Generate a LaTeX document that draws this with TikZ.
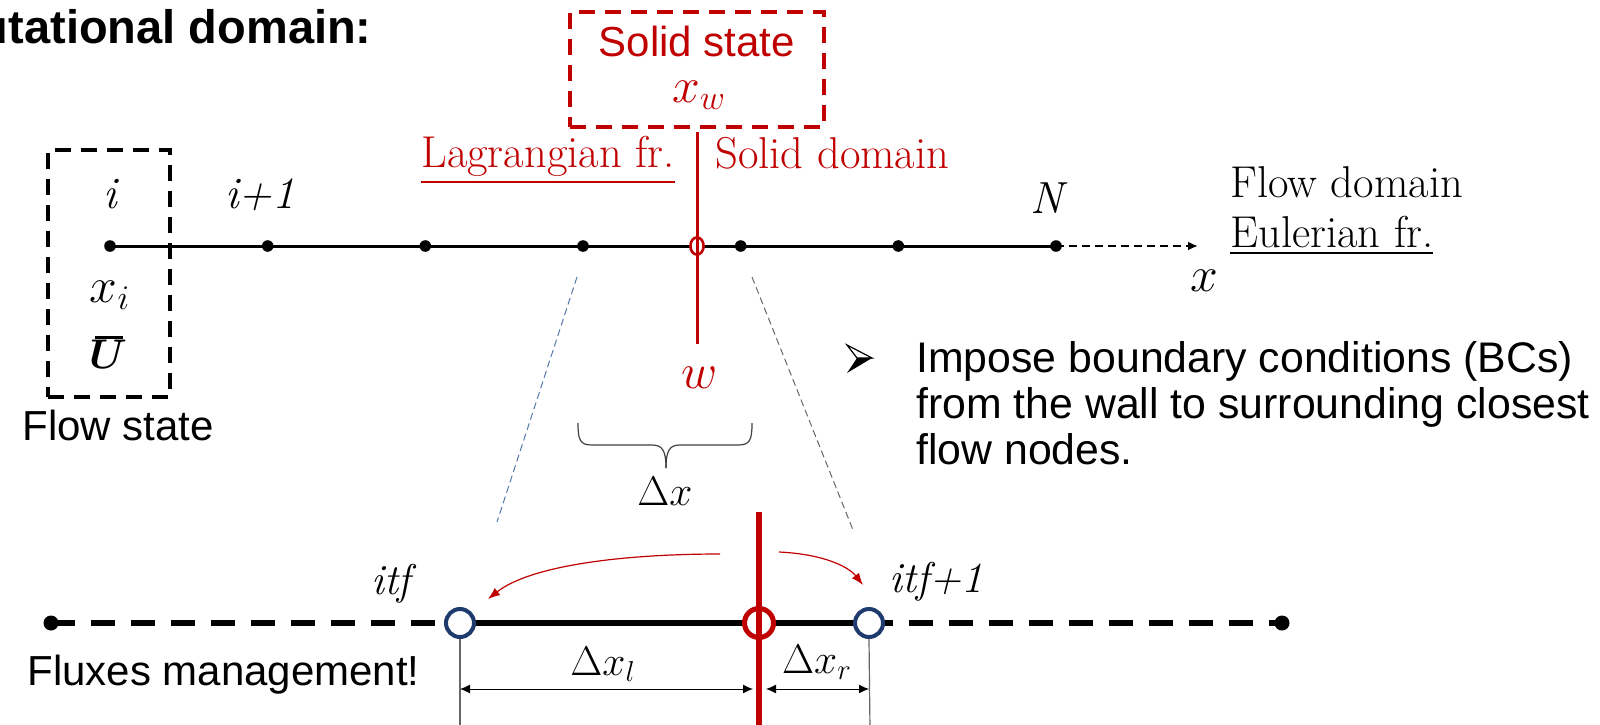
\documentclass[tikz,border=0pt]{standalone}
\usepackage{amsmath}
\usepackage{fontspec}
\setsansfont{Liberation Sans}
\usetikzlibrary{arrows.meta,calc}
\definecolor{wallred}{HTML}{C00000}
\definecolor{navy}{HTML}{1F3B6E}
\definecolor{zoomblue}{HTML}{5577AA}
\definecolor{zoomgray}{HTML}{666666}
\definecolor{bracegray}{HTML}{404040}
\tikzset{
  sanslab/.style={font=\sffamily\fontsize{21}{24}\selectfont, inner sep=0},
  bulletlab/.style={font=\sffamily\fontsize{21.4}{24}\selectfont, inner sep=0},
  serlab/.style={font=\fontsize{22.3}{26}\selectfont, inner sep=0},
  itlab/.style={font=\fontsize{22.5}{26}\selectfont\itshape, inner sep=0},
  itflab/.style={font=\fontsize{21.5}{25}\selectfont\itshape, inner sep=0},
  mathlab/.style={font=\fontsize{22.5}{26}\selectfont, inner sep=0},
  dotnode/.style={circle, fill=black, inner sep=0, minimum size=5.8pt},
  bigdot/.style={circle, fill=black, inner sep=0, minimum size=7.5pt},
  hollow/.style={circle, draw=navy, fill=white, line width=2pt, inner sep=0, minimum size=14pt},
  redhollow/.style={circle, draw=wallred, fill=white, line width=2.5pt, inner sep=0, minimum size=14.5pt},
  dashbox/.style={draw, line width=2pt, dash pattern=on 8pt off 5pt},
  mainline/.style={line width=1.5pt},
  thickline/.style={line width=3pt},
  thickdash/.style={line width=3pt, dash pattern=on 12pt off 8pt},
  zoomline/.style={line width=0.5pt, dash pattern=on 3.5pt off 2pt},
  dimline/.style={line width=0.5pt, {Latex[length=5pt,width=4.5pt]}-{Latex[length=5pt,width=4.5pt]}},
  extline/.style={line width=0.6pt, draw=zoomgray},
  fluxarrow/.style={wallred, line width=0.6pt, -{Latex[length=6pt,width=4.5pt]}}
}
\begin{document}
\begin{tikzpicture}[x=0.5pt,y=-0.5pt]
\useasboundingbox (0,0) rectangle (1600,724);
\clip (0,0) rectangle (1600,724);

% title
\node[anchor=base east, font=\sffamily\bfseries\fontsize{23.5}{28}\selectfont, inner sep=0] (title) at (372,43) {utational domain:};

% flow state box
\node[dashbox, minimum width=61pt, minimum height=123.5pt, inner sep=0] (fbox) at (109,273.5) {};
\node[sanslab, anchor=base west] (flowstate) at (22,440) {Flow state};

% solid state box
\node[dashbox, draw=wallred, minimum width=127pt, minimum height=57.5pt, inner sep=0] (sbox) at (696.5,69.5) {};
\node[sanslab, text=wallred, anchor=base] (solidstate) at (697,56) {Solid state};
\node[mathlab, text=wallred, anchor=base, font=\fontsize{23.5}{28}\selectfont] (xw) at (699,102) {$x_w$};

% main grid line
\foreach \i/\x in {1/110,2/267.7,3/425.3,4/583,5/740.7,6/898.3,7/1056} {
  \node[dotnode] (d\i) at (\x,246) {};
}
\coordinate (xend) at (1198,246);
\draw[mainline] (d1.center) -- (d7.center);
\draw[line width=1.2pt, dash pattern=on 4pt off 2.5pt, -{Latex[length=5pt,width=4.5pt]}] (d7.center) -- (xend);

% wall in upper line
\coordinate (wtop) at (697,132);
\coordinate (wbot) at (697,344);
\coordinate (wc) at (697,246);
\draw[wallred, line width=1.5pt] (wtop) -- (wbot);
\draw[wallred, line width=1.3pt, fill=white] (wc) ellipse [x radius=3.3pt, y radius=4.3pt];
\draw[wallred, line width=1.5pt] ($(wc)+(0,-10)$) -- ($(wc)+(0,10)$);

% labels on upper line
\node[itlab, anchor=base] (li) at (110,208) {i};
\node[itlab, anchor=base] (lip) at (260,208) {i+1};
\node[itlab, anchor=base] (lN) at (1047,213) {N};
\node[mathlab, anchor=base, font=\fontsize{24}{28}\selectfont] (lxi) at (110,302) {$x_i$};
\node[mathlab, anchor=base, font=\fontsize{19.5}{23}\selectfont] (lU) at (108,368) {\rlap{\kern0.16em\rule[0.74em]{0.72em}{0.07em}}$\boldsymbol{U}$};
\node[serlab, text=wallred, anchor=base east] (lagr) at (675,167) {\underline{Lagrangian fr.}};
\node[serlab, text=wallred, anchor=base west] (soliddom) at (715,168) {Solid domain};
\node[serlab, anchor=base west] (flowdom) at (1230,197) {Flow domain};
\node[serlab, anchor=base west] (euler) at (1230,247) {\underline{Eulerian fr.}};
\node[mathlab, anchor=base, font=\fontsize{24}{28}\selectfont] (lx) at (1204,291) {$x$};
\node[mathlab, text=wallred, anchor=base, font=\fontsize{26}{30}\selectfont] (lw) at (700,388) {$w$};

% zoom lines
\coordinate (lz1) at (577,277);
\coordinate (lz2) at (497,522);
\coordinate (rz1) at (752,277);
\coordinate (rz2) at (853,530);
\draw[zoomline, draw=zoomblue] (lz1) -- (lz2);
\draw[zoomline, draw=zoomgray] (rz1) -- (rz2);

% brace
\draw[bracegray, line width=0.6pt] (578,423) .. controls (578,440) and (580,445) .. (592,445) -- (652,445) .. controls (662,445) and (666,450) .. (666,468);
\draw[bracegray, line width=0.6pt] (752,423) .. controls (752,440) and (750,445) .. (738,445) -- (680,445) .. controls (670,445) and (666,450) .. (666,468);
\node[mathlab, anchor=base] (ldx) at (665,505) {$\Delta x$};

% bullet text
\coordinate (ba) at (847,345);
\coordinate (bt) at (872,358);
\coordinate (bb) at (847,373);
\coordinate (bn) at (857,358);
\draw[line width=0.6pt, fill=white, line join=miter] (ba) -- (bt) -- (bn) -- cycle;
\fill[black] (bn) -- (bt) -- (bb) -- cycle;
\node[bulletlab, anchor=base west] (bc1) at (916,372) {Impose boundary conditions (BCs)};
\node[bulletlab, anchor=base west] (bc2) at (916,418) {from the wall to surrounding closest};
\node[bulletlab, anchor=base west] (bc3) at (916,464) {flow nodes.};

% lower zoomed line
\node[bigdot] (ld) at (51,623) {};
\node[bigdot] (rd) at (1282,623) {};
\coordinate (b1c) at (460,623);
\coordinate (b2c) at (869,623);
\draw[thickdash] (ld.center) -- (b1c);
\draw[thickdash] (b2c) -- (rd.center);
\draw[thickline] (b1c) -- (b2c);
\node[hollow] (b1) at (b1c) {};
\node[hollow] (b2) at (b2c) {};
\node[redhollow] (rc) at (759,623) {};
\coordinate (wlt) at (759,512);
\coordinate (wlb) at (759,730);
\draw[wallred, line width=2.7pt] (wlt) -- (wlb);

\node[itflab, anchor=base] (litf) at (391,594) {itf};
\node[itflab, anchor=base west] (litf1) at (889,592) {itf+1};
\node[sanslab, anchor=base west] (flux) at (27,685) {Fluxes management!};

% flux arrows
\coordinate (fa1) at (720,554);
\coordinate (fa2) at (779,552);
\draw[fluxarrow] (fa1) .. controls (620,554) and (530,566) .. (488,599);
\draw[fluxarrow] (fa2) .. controls (822,554) and (848,566) .. (863,585);

% extension and dimension lines
\coordinate (e1) at (460,730);
\coordinate (e2) at (870,730);
\draw[extline] (b1.south) -- (e1);
\draw[extline] (b2.south) -- (e2);
\coordinate (dl1) at (460,689);
\coordinate (dl2) at (753,689);
\coordinate (dr1) at (766,689);
\coordinate (dr2) at (869,689);
\draw[dimline] (dl1) -- (dl2);
\draw[dimline] (dr1) -- (dr2);
\node[mathlab, anchor=base] (ldxl) at (603,675) {$\Delta x_l$};
\node[mathlab, anchor=base] (ldxr) at (817,673) {$\Delta x_r$};
\end{tikzpicture}
\end{document}
